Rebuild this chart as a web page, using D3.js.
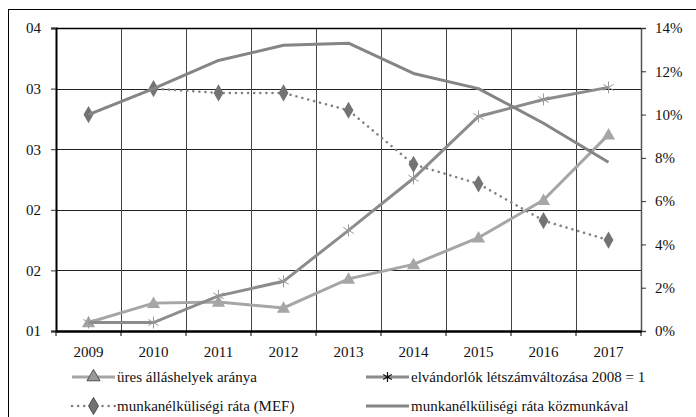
<!DOCTYPE html>
<html lang="hu">
<head>
<meta charset="UTF-8">
<title>Munkaerőpiac 2009-2017</title>
<style>
  body { margin: 0; background: #fff; }
  svg text { font-family: "Liberation Serif", "DejaVu Serif", serif; font-size: 15px; fill: #111; }
</style>
</head>
<body>
<div id="chart"></div>
<script src="https://d3js.org/d3.v7.min.js"></script>
<script>
var years = ["2009", "2010", "2011", "2012", "2013", "2014", "2015", "2016", "2017"];
// bal tengely (index)
var uresAllas = [1.07, 1.23, 1.24, 1.19, 1.43, 1.55, 1.77, 2.08, 2.62];
var elvandorlok = [1.07, 1.07, 1.29, 1.41, 1.83, 2.26, 2.77, 2.91, 3.01];
// jobb tengely (%)
var munkanelkMEF = [10.0, 11.2, 11.0, 11.0, 10.2, 7.7, 6.8, 5.1, 4.2];
var munkanelkKoz = [10.0, 11.2, 12.5, 13.2, 13.3, 11.9, 11.2, 9.6, 7.8];
var leftTicks = [1, 1.5, 2, 2.5, 3, 3.5];
var rightTicks = [0, 2, 4, 6, 8, 10, 12, 14];
var seriesNames = ["üres álláshelyek aránya", "elvándorlók létszámváltozása 2008 = 1",
                   "munkanélküliségi ráta (MEF)", "munkanélküliségi ráta közmunkával"];

var width = 696, height = 417;
var padding = { left: 56, right: 55, top: 28, bottom: 86 };
var innerW = width - padding.left - padding.right;
var innerH = height - padding.top - padding.bottom;

var svg = d3.select('#chart').append('svg').attr('width', width).attr('height', height);

// keret
svg.append('rect')
    .attr('x', 8.5).attr('y', 9.5)
    .attr('width', 700).attr('height', 420)
    .attr('fill', 'none').attr('stroke', '#000').attr('stroke-width', 1);

var xScale = d3.scaleBand().domain(years).range([0, innerW]);
var yLeft = d3.scaleLinear().domain([1, 3.5]).range([innerH, 0]);
var yRight = d3.scaleLinear().domain([0, 14]).range([innerH, 0]);

var g = svg.append('g').attr('transform', 'translate(' + padding.left + ',' + padding.top + ')');

// rácsvonalak
g.append('g').selectAll('line')
    .data(leftTicks)
    .enter().append('line')
    .attr('x1', 0).attr('x2', innerW)
    .attr('y1', function(d) { return Math.round(yLeft(d)) + 0.5; })
    .attr('y2', function(d) { return Math.round(yLeft(d)) + 0.5; })
    .attr('stroke', '#222').attr('stroke-width', 1);
g.append('g').selectAll('line')
    .data(years.slice(1))
    .enter().append('line')
    .attr('x1', function(d) { return Math.round(xScale(d)) + 0.5; })
    .attr('x2', function(d) { return Math.round(xScale(d)) + 0.5; })
    .attr('y1', 0).attr('y2', innerH)
    .attr('stroke', '#444').attr('stroke-width', 1);

// tengelyek
var leftAxis = g.append('g')
    .call(d3.axisLeft(yLeft).tickValues(leftTicks).tickFormat(d3.format('02.0f')).tickSize(5).tickPadding(10));
leftAxis.select('.domain').attr('stroke', '#000').attr('stroke-width', 2);

var rightAxis = g.append('g')
    .attr('transform', 'translate(' + innerW + ',0)')
    .call(d3.axisRight(yRight).tickValues(rightTicks).tickFormat(function(d) { return d + '%'; }).tickSize(5).tickPadding(9));
rightAxis.select('.domain').attr('stroke', '#555').attr('stroke-width', 1.5);

var bottomAxis = g.append('g')
    .attr('transform', 'translate(0,' + innerH + ')')
    .call(d3.axisBottom(xScale).tickSize(0).tickPadding(15));
bottomAxis.select('.domain').attr('stroke', '#000').attr('stroke-width', 2.5);
g.append('g').selectAll('line')
    .data(years.concat(['end']))
    .enter().append('line')
    .attr('x1', function(d, i) { return i * xScale.step(); })
    .attr('x2', function(d, i) { return i * xScale.step(); })
    .attr('y1', innerH).attr('y2', innerH + 5)
    .attr('stroke', '#000');

svg.selectAll('.tick text').style('font-family', '"Liberation Serif", serif').style('font-size', '15px').attr('fill', '#111');
svg.selectAll('.tick line').attr('stroke', '#333');

// felső szegély
g.append('line').attr('x1', 0).attr('x2', innerW).attr('y1', 0.5).attr('y2', 0.5)
    .attr('stroke', '#000').attr('stroke-width', 1.5);

function cx(i) { return xScale(years[i]) + xScale.bandwidth() / 2; }

var triangle = d3.symbol().type(d3.symbolTriangle).size(75);
var diamond = d3.symbol().type(d3.symbolDiamond).size(85);

function drawStar(sel, color, r, w) {
    sel.each(function() {
        var s = d3.select(this);
        [0, 60, 120].forEach(function(a) {
            var rad = a * Math.PI / 180;
            s.append('line')
                .attr('x1', -r * Math.sin(rad)).attr('y1', -r * Math.cos(rad))
                .attr('x2', r * Math.sin(rad)).attr('y2', r * Math.cos(rad))
                .attr('stroke', color).attr('stroke-width', w || 1);
        });
    });
}

var lineLeft = d3.line().x(function(d, i) { return cx(i); }).y(function(d) { return yLeft(d); });
var lineRight = d3.line().x(function(d, i) { return cx(i); }).y(function(d) { return yRight(d); });

// üres álláshelyek
g.append('path').attr('d', lineLeft(uresAllas))
    .attr('fill', 'none').attr('stroke', '#a6a6a6').attr('stroke-width', 3);
g.append('g').selectAll('path').data(uresAllas).enter().append('path')
    .attr('d', triangle)
    .attr('transform', function(d, i) { return 'translate(' + cx(i) + ',' + (yLeft(d) + 1) + ')'; })
    .attr('fill', '#a6a6a6');

// elvándorlók
g.append('path').attr('d', lineLeft(elvandorlok))
    .attr('fill', 'none').attr('stroke', '#8c8c8c').attr('stroke-width', 3);
g.append('g').selectAll('g').data(elvandorlok).enter().append('g')
    .attr('transform', function(d, i) { return 'translate(' + cx(i) + ',' + yLeft(d) + ')'; })
    .call(drawStar, '#999', 6);

// MEF
g.append('path').attr('d', lineRight(munkanelkMEF))
    .attr('fill', 'none').attr('stroke', '#808080').attr('stroke-width', 2.5)
    .attr('stroke-dasharray', '0.1 6').attr('stroke-linecap', 'round');
g.append('g').selectAll('path').data(munkanelkMEF).enter().append('path')
    .attr('d', diamond)
    .attr('transform', function(d, i) { return 'translate(' + cx(i) + ',' + yRight(d) + ')'; })
    .attr('fill', '#737373');

// közmunkával
g.append('path').attr('d', lineRight(munkanelkKoz))
    .attr('fill', 'none').attr('stroke', '#858585').attr('stroke-width', 3)
    .attr('stroke-linejoin', 'round');

// jelmagyarázat
var legend = svg.append('g');
var legendPos = [[72, 377], [366, 377], [72, 406], [366, 406]];

legendPos.forEach(function(p, i) {
    var lg = legend.append('g').attr('transform', 'translate(' + p[0] + ',' + p[1] + ')');
    var ln = lg.append('line').attr('x1', 0).attr('x2', 43).attr('y1', 0).attr('y2', 0);
    if (i === 0) {
        ln.attr('stroke', '#a6a6a6').attr('stroke-width', 3);
        lg.append('path').attr('d', triangle).attr('transform', 'translate(21.5,0)')
            .attr('fill', '#999').attr('stroke', '#333').attr('stroke-width', 0.8);
    } else if (i === 1) {
        ln.attr('stroke', '#8c8c8c').attr('stroke-width', 3);
        lg.append('g').attr('transform', 'translate(21.5,0)').call(drawStar, '#111', 5, 1.2);
    } else if (i === 2) {
        ln.attr('stroke', '#808080').attr('stroke-width', 2.5)
            .attr('stroke-dasharray', '0.1 6').attr('stroke-linecap', 'round');
        lg.append('path').attr('d', diamond).attr('transform', 'translate(21.5,0)')
            .attr('fill', '#737373').attr('stroke', '#333').attr('stroke-width', 0.8);
    } else {
        ln.attr('stroke', '#858585').attr('stroke-width', 3);
    }
    lg.append('text').attr('x', 45).attr('y', 5).text(seriesNames[i]);
});
</script>
</body>
</html>
